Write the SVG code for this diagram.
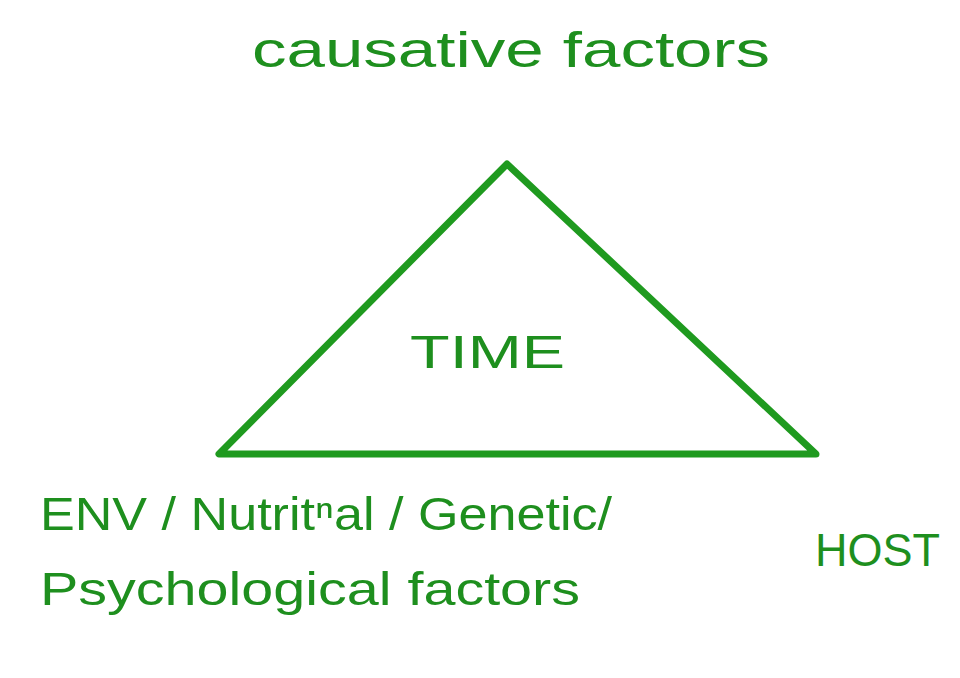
<svg xmlns="http://www.w3.org/2000/svg" width="960" height="678" viewBox="0 0 960 678">
<style>
.t{font-family:"Liberation Sans","DejaVu Sans",sans-serif;fill:#1e8f1e;}
.shape{fill:none;stroke:#1f9a1f;stroke-width:7;stroke-linejoin:round;stroke-linecap:round;}
</style>
<rect width="960" height="678" fill="#ffffff"/>
<g id="triangle">
<polygon class="shape" points="507,164 219,454 816,454"/>
<text class="t" x="410" y="368" font-size="46" textLength="155" lengthAdjust="spacingAndGlyphs">TIME</text>
</g>
<g id="causative">
<text class="t" x="252" y="67" font-size="50" textLength="518" lengthAdjust="spacingAndGlyphs">causative factors</text>
</g>
<g id="env">
<text class="t" x="40" y="530" font-size="46" textLength="572" lengthAdjust="spacingAndGlyphs">ENV / Nutritⁿal / Genetic/</text>
<text class="t" x="40" y="605" font-size="46" textLength="540" lengthAdjust="spacingAndGlyphs">Psychological factors</text>
</g>
<g id="host">
<text class="t" x="815" y="566" font-size="46" textLength="125" lengthAdjust="spacingAndGlyphs">HOST</text>
</g>
<g id="connectors"></g>
</svg>
